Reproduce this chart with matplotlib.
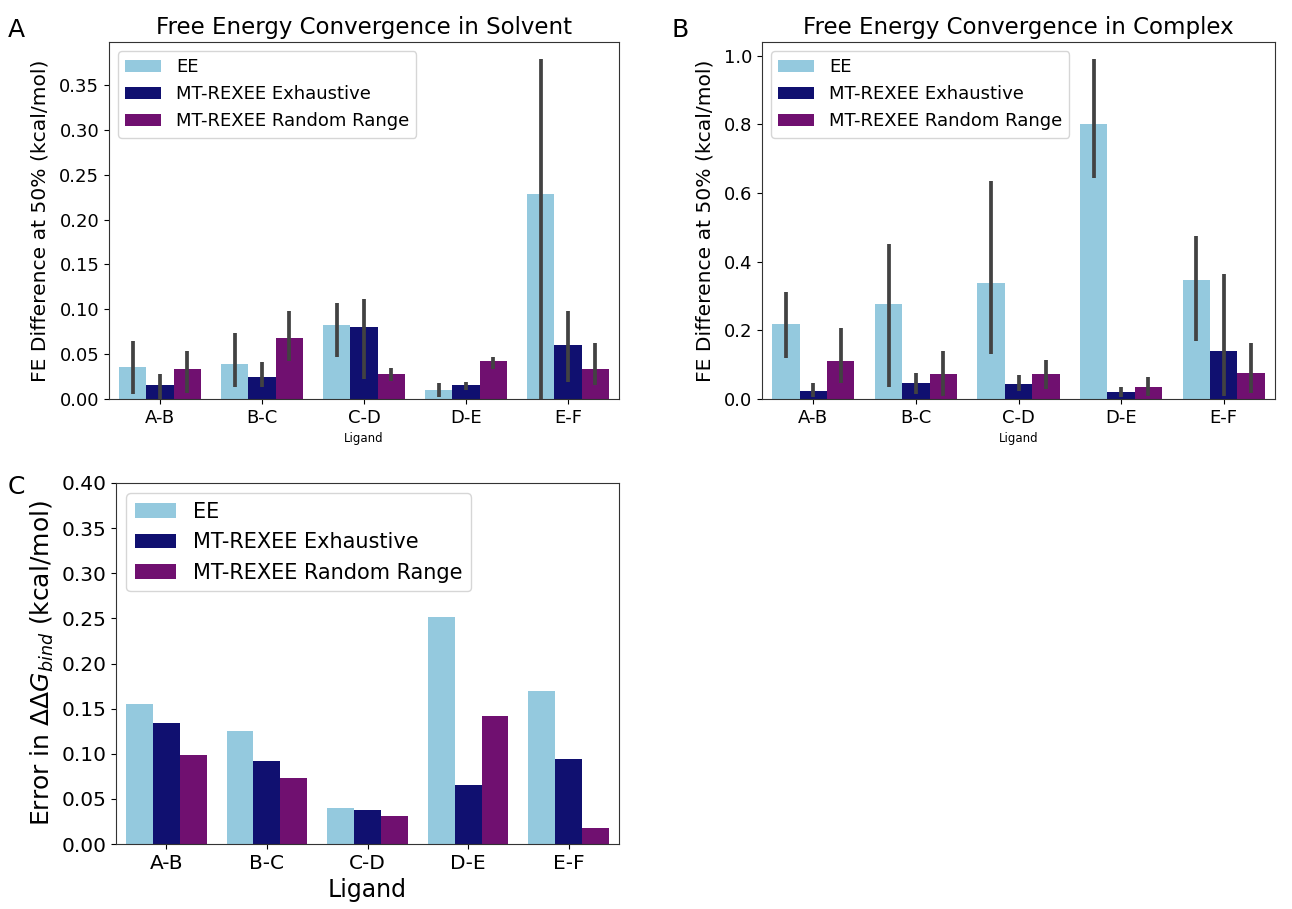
import numpy as np
import matplotlib
matplotlib.use("Agg")
import matplotlib.pyplot as plt

ligands = ["A-B", "B-C", "C-D", "D-E", "E-F"]
methods = ["EE", "MT-REXEE Exhaustive", "MT-REXEE Random Range"]
colours = ["#94c9de", "#101070", "#701070"]

# panel A: solvent, mean and CI bounds
solv_ee = [0.036, 0.039, 0.0825, 0.0096, 0.228]
solv_ee_lo = [0.0055, 0.013, 0.0466, 0.0018, -0.001]
solv_ee_hi = [0.065, 0.074, 0.1065, 0.0178, 0.3796]
solv_exh = [0.0155, 0.025, 0.080, 0.0155, 0.060]
solv_exh_lo = [-0.0045, 0.013, 0.0226, 0.0104, 0.019]
solv_exh_hi = [0.028, 0.041, 0.112, 0.019, 0.098]
solv_rr = [0.034, 0.068, 0.0274, 0.042, 0.034]
solv_rr_lo = [0.0067, 0.0425, 0.0196, 0.034, 0.0155]
solv_rr_hi = [0.054, 0.098, 0.035, 0.047, 0.062]

# panel B: complex
comp_ee = [0.218, 0.278, 0.339, 0.801, 0.348]
comp_ee_lo = [0.119, 0.034, 0.131, 0.645, 0.170]
comp_ee_hi = [0.311, 0.452, 0.636, 0.991, 0.476]
comp_exh = [0.024, 0.048, 0.0435, 0.021, 0.140]
comp_exh_lo = [0.005, 0.0145, 0.024, 0.005, 0.0097]
comp_exh_hi = [0.048, 0.075, 0.0705, 0.034, 0.365]
comp_rr = [0.110, 0.074, 0.074, 0.034, 0.076]
comp_rr_lo = [0.048, 0.0097, 0.029, 0.0097, 0.017]
comp_rr_hi = [0.206, 0.140, 0.114, 0.063, 0.162]

# panel C: error in ddG bind
ddg_ee = [0.1547, 0.125, 0.0403, 0.251, 0.170]
ddg_exh = [0.1336, 0.0925, 0.0374, 0.0659, 0.0944]
ddg_rr = [0.0988, 0.0733, 0.0311, 0.1414, 0.0181]

W, H = 1292, 909
fig = plt.figure(figsize=(W / 100, H / 100), dpi=100)

def px_axes(left, top, right, bottom):
    return fig.add_axes([left / W, 1 - bottom / H, (right - left) / W, (bottom - top) / H])

def grouped(ax, vals, los=None, his=None, fs_tick=13, fs_leg=13):
    x = np.arange(len(ligands))
    w = 0.8 / 3
    for i in range(3):
        pos = x - 0.4 + w * (i + 0.5)
        ax.bar(pos, vals[i], width=w, color=colours[i], label=methods[i])
    if los is not None:
        for i in range(3):
            pos = x - 0.4 + w * (i + 0.5)
            ax.vlines(pos, los[i], his[i], color="#424242", lw=2.7, zorder=3)
    ax.set_xticks(x)
    ax.set_xticklabels(ligands)
    ax.set_xlim(-0.5, len(ligands) - 0.5)
    ax.tick_params(labelsize=fs_tick)
    for s in ax.spines.values():
        s.set_color("#333333")
    ax.legend(loc="upper left", fontsize=fs_leg)

axA = px_axes(109, 42, 619, 399)
grouped(axA, [solv_ee, solv_exh, solv_rr],
        [solv_ee_lo, solv_exh_lo, solv_rr_lo], [solv_ee_hi, solv_exh_hi, solv_rr_hi])
axA.set_ylim(0, 0.398)
axA.set_yticks(np.arange(0, 0.36, 0.05))
axA.set_title("Free Energy Convergence in Solvent", fontsize=16.5)
axA.set_ylabel("FE Difference at 50% (kcal/mol)", fontsize=14.6, labelpad=7)
axA.set_xlabel("Ligand", fontsize=8.5)

axB = px_axes(762, 42, 1275, 399)
grouped(axB, [comp_ee, comp_exh, comp_rr],
        [comp_ee_lo, comp_exh_lo, comp_rr_lo], [comp_ee_hi, comp_exh_hi, comp_rr_hi])
axB.set_ylim(0, 1.04)
axB.set_title("Free Energy Convergence in Complex", fontsize=16.5)
axB.set_ylabel("FE Difference at 50% (kcal/mol)", fontsize=14.6, labelpad=7)
axB.set_xlabel("Ligand", fontsize=8.5)

axC = px_axes(116, 483, 619, 844)
grouped(axC, [ddg_ee, ddg_exh, ddg_rr], fs_tick=14.5, fs_leg=15)
axC.set_ylim(0, 0.40)
axC.set_ylabel(r"Error in $\Delta\Delta G_{bind}$ (kcal/mol)", fontsize=18)
axC.set_xlabel("Ligand", fontsize=17)

fig.text(8 / W, 1 - 37 / H, "A", fontsize=18)
fig.text(672 / W, 1 - 37 / H, "B", fontsize=18)
fig.text(8 / W, 1 - 494 / H, "C", fontsize=18)

fig.savefig("out.png", dpi=100)
